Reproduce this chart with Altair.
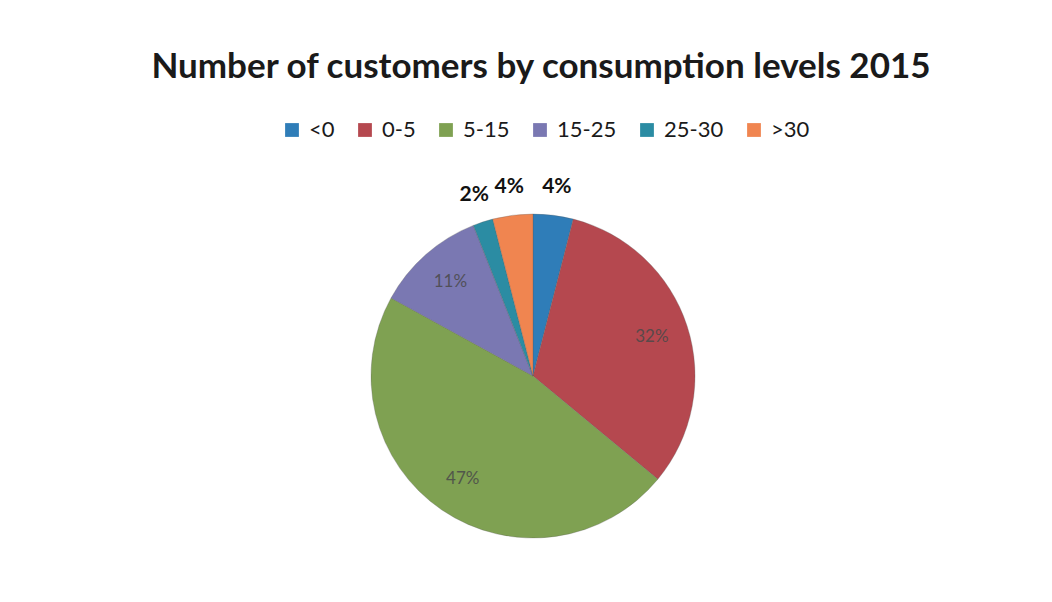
import altair as alt
import pandas as pd

categories = ["<0", "0-5", "5-15", "15-25", "25-30", ">30"]
shares = [4, 32, 47, 11, 2, 4]
colors = ["#2f7db8", "#b5484f", "#7fa152", "#7a78b2", "#2b8ca3", "#f08550"]

df = pd.DataFrame({
    "category": categories,
    "value": shares,
    "order": list(range(len(categories))),
})
df["label"] = df["value"].astype(str) + "%"

CX, CY, R = 522, 281, 162

base = alt.Chart(df).transform_window(
    cum="sum(value)", sort=[alt.SortField("order")]
).transform_calculate(
    start="datum.cum - datum.value",
    mid="datum.cum - datum.value / 2",
)

theta_scale = alt.Scale(domain=[0, 100], range=[0, 6.283185307])

arcs = base.mark_arc(outerRadius=R, stroke="#5a5a5a", strokeWidth=0.3).encode(
    theta=alt.Theta("start:Q", scale=theta_scale),
    theta2="cum:Q",
    color=alt.Color(
        "category:N",
        scale=alt.Scale(domain=categories, range=colors),
        legend=alt.Legend(
            title=None,
            orient="none",
            direction="horizontal",
            legendX=270,
            legendY=24,
            symbolType="square",
            symbolSize=190,
            symbolStrokeWidth=0,
            labelFontSize=22,
            labelFont="Lato",
            labelColor="#1a1a1a",
            columnPadding=19,
            labelOffset=6,
        ),
    ),
    x=alt.value(CX),
    y=alt.value(CY),
    tooltip=["category", "label"],
)

inside = base.transform_filter("datum.value >= 5").mark_text(
    radius=125, fontSize=17, font="Lato", color="#4a4a4a", opacity=0.85
).encode(
    theta=alt.Theta("mid:Q", scale=theta_scale),
    text="label:N",
    x=alt.value(CX),
    y=alt.value(CY),
)

outside = base.transform_filter("datum.value < 5").mark_text(
    radius=190, fontSize=21, font="Lato", fontWeight="bold", color="#111111"
).encode(
    theta=alt.Theta("mid:Q", scale=theta_scale),
    text="label:N",
    x=alt.value(CX),
    y=alt.value(CY),
)

chart = alt.layer(arcs, inside, outside).properties(
    width=1030,
    height=505,
    padding={"left": 3, "right": 3, "top": 42, "bottom": 3},
    background="white",
    title=alt.TitleParams(
        "Number of customers by consumption levels 2015",
        fontSize=35,
        font="Lato",
        fontWeight="bold",
        color="#1a1a1a",
        anchor="middle",
        offset=10,
        dx=15,
    ),
).configure_view(stroke=None)

chart.save("out.html", embed_options={"renderer": "svg", "actions": False})
